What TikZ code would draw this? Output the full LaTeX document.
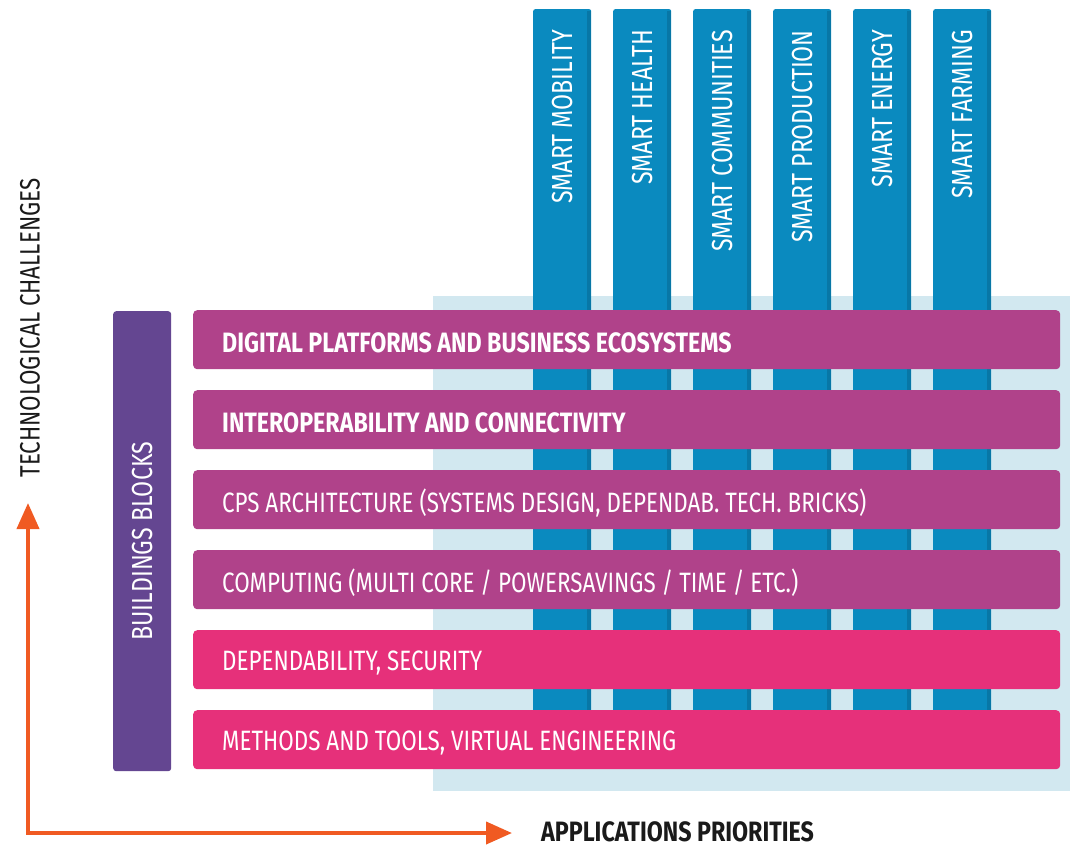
\documentclass[tikz,border=0pt]{standalone}
\usepackage{fontspec}
\setmainfont{Fira Sans}[UprightFeatures={FakeStretch=0.80}, BoldFeatures={FakeStretch=0.83}]
\usetikzlibrary{arrows.meta}
\definecolor{barpurple}{HTML}{B0428A}
\definecolor{barpink}{HTML}{E6307A}
\definecolor{colblue}{HTML}{0A8ABF}
\definecolor{colbluedark}{HTML}{0877A6}
\definecolor{lightbg}{HTML}{D2E8F0}
\definecolor{blockpurple}{HTML}{644691}
\definecolor{arroworange}{HTML}{F05A22}
\definecolor{darktext}{HTML}{1A1A1A}
\tikzset{
  lbl/.style={font=\fontsize{28}{30}\selectfont, inner sep=0pt},
  barbox/.style={fill=#1, draw=none, rounded corners=4pt, minimum width=867pt, minimum height=59pt, anchor=north west, inner sep=0pt},
  barlbl/.style={lbl, text=white, anchor=west},
  colbox/.style={fill=colblue, draw=none, rounded corners=2pt, minimum width=58pt, minimum height=731pt, anchor=north west, inner sep=0pt},
  collbl/.style={lbl, font=\fontsize{29}{31}\selectfont, text=white, rotate=90, anchor=east},
  axis/.style={draw=arroworange, line width=4pt, {Triangle[length=26pt,width=22pt]}-{Triangle[length=26pt,width=22pt]}},
}
\begin{document}
\begin{tikzpicture}[x=1pt,y=-1pt]
\useasboundingbox (0,0) rectangle (1070,847);
\fill[white] (0,0) rectangle (1070,847);
% light background
\node[fill=lightbg, minimum width=637pt, minimum height=495pt, anchor=north west, inner sep=0pt] (bg) at (433,296) {};
% columns
\foreach \i/\x/\t in {1/533/SMART MOBILITY, 2/613/SMART HEALTH, 3/693/SMART COMMUNITIES, 4/773/SMART PRODUCTION, 5/853/SMART ENERGY, 6/933/SMART FARMING}{
  \node[colbox] (col\i) at (\x,9) {};
  \fill[colbluedark] ([xshift=-4pt,yshift=-2pt]col\i.north east) rectangle (col\i.south east);
  \node[collbl] (collbl\i) at ([yshift=-21pt]col\i.north) {\t};
}
% bars
\node[barbox=barpurple] (bar1) at (193,310) {};
\node[barbox=barpurple] (bar2) at (193,390) {};
\node[barbox=barpurple] (bar3) at (193,470) {};
\node[barbox=barpurple] (bar4) at (193,550) {};
\node[barbox=barpink] (bar5) at (193,630) {};
\node[barbox=barpink] (bar6) at (193,710) {};
\node[barlbl, font=\fontsize{28}{30}\selectfont\bfseries] (t1) at ([xshift=29pt,yshift=-3pt]bar1.west) {DIGITAL PLATFORMS AND BUSINESS ECOSYSTEMS};
\node[barlbl, font=\fontsize{28}{30}\selectfont\bfseries] (t2) at ([xshift=29pt,yshift=-3pt]bar2.west) {INTEROPERABILITY AND CONNECTIVITY};
\node[barlbl] (t3) at ([xshift=29pt,yshift=-3pt]bar3.west) {CPS ARCHITECTURE (SYSTEMS DESIGN, DEPENDAB. TECH. BRICKS)};
\node[barlbl] (t4) at ([xshift=29pt,yshift=-3pt]bar4.west) {COMPUTING (MULTI CORE / POWERSAVINGS / TIME / ETC.)};
\node[barlbl] (t5) at ([xshift=29pt,yshift=-3pt]bar5.west) {DEPENDABILITY, SECURITY};
\node[barlbl] (t6) at ([xshift=29pt,yshift=-3pt]bar6.west) {METHODS AND TOOLS, VIRTUAL ENGINEERING};
% building blocks
\node[fill=blockpurple, rounded corners=3pt, minimum width=58pt, minimum height=460pt, anchor=north west, inner sep=0pt] (bb) at (113,311) {};
\node[lbl, font=\fontsize{29}{31}\selectfont, text=white, rotate=90] (bbl) at (bb.center) {BUILDINGS BLOCKS};
% axes
\coordinate (origin) at (28,833);
\coordinate (ytip) at (28,503);
\coordinate (xtip) at (512,833);
\draw[axis] (ytip) -- (origin) -- (xtip);
\node[lbl, text=darktext, rotate=90] (tc) at (30,328) {TECHNOLOGICAL CHALLENGES};
\node[lbl, text=darktext, anchor=base west, font=\fontsize{28}{30}\selectfont\bfseries] (ap) at (541,841) {APPLICATIONS PRIORITIES};
\end{tikzpicture}
\end{document}
